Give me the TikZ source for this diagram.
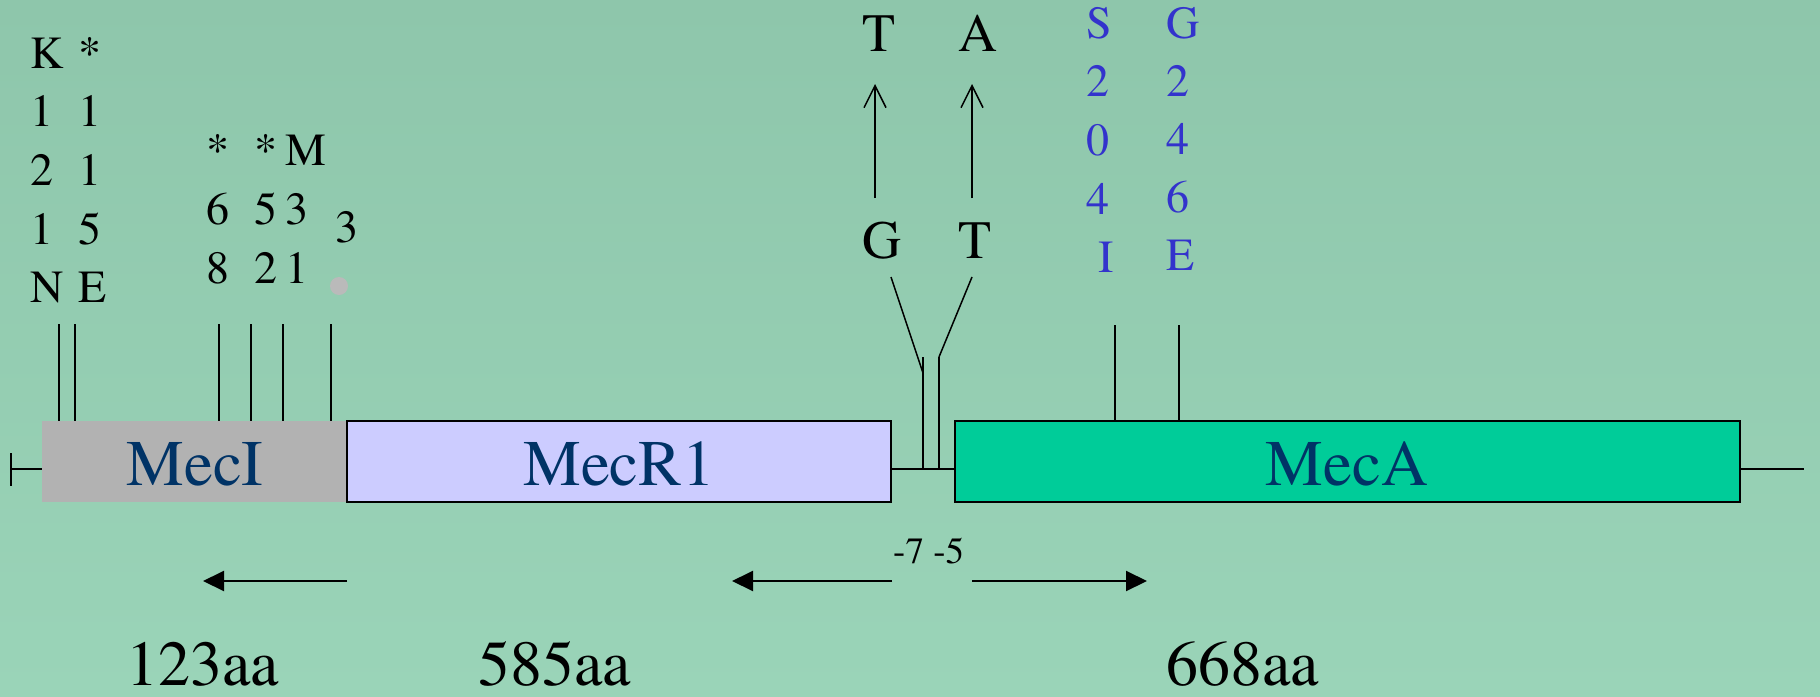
\documentclass[tikz,border=0pt]{standalone}
\usepackage[T1]{fontenc}
\renewcommand{\rmdefault}{ptm}
\usetikzlibrary{arrows.meta}
\definecolor{bgtop}{RGB}{142,198,171}
\definecolor{bgbot}{RGB}{154,212,184}
\definecolor{mecIgray}{RGB}{178,178,178}
\definecolor{mecRblue}{RGB}{204,204,255}
\definecolor{mecAgreen}{RGB}{0,204,153}
\definecolor{navy}{RGB}{0,51,102}
\definecolor{mutblue}{RGB}{51,51,204}
\definecolor{dotgray}{RGB}{186,186,186}
\begin{document}
\begin{tikzpicture}[x=1pt,y=-1pt,
  gene/.style={rectangle, inner sep=0pt, outer sep=0pt, anchor=north west, minimum height=81pt},
  genename/.style={font=\rmfamily\fontsize{65}{78}\selectfont, text=navy, anchor=base, inner sep=0pt},
  res/.style={font=\rmfamily\fontsize{46}{55}\selectfont, anchor=base west, inner sep=0pt},
  mut/.style={res, text=mutblue},
  nt/.style={font=\rmfamily\fontsize{54}{64}\selectfont, anchor=base, inner sep=0pt},
  len/.style={font=\rmfamily\fontsize{64}{76}\selectfont, anchor=base west, inner sep=0pt},
  tick/.style={line width=1.5pt},
  dir/.style={line width=2pt, -{Triangle[length=21pt,width=20pt]}},
  subst/.style={line width=1.5pt, -{Straight Barb[length=22pt,width=22pt,line width=1.5pt]}}
]
% page and background
\useasboundingbox (0,0) rectangle (1820,696);
\shade[top color=bgtop, bottom color=bgbot] (0,0) rectangle (1820,696);

% backbone of the operon
\draw[tick] (11,453) -- (11,486);
\draw[tick] (11,469) -- (42,469);
\draw[tick] (891,469) -- (955,469);
\draw[tick] (1740,469) -- (1804,469);

% genes
\node[gene, fill=mecIgray, minimum width=305pt] (mecI) at (42,421) {};
\node[gene, draw, line width=1.5pt, fill=mecRblue, minimum width=544pt] (mecR) at (347,421) {};
\node[gene, draw, line width=1.5pt, fill=mecAgreen, minimum width=785pt] (mecA) at (955,421) {};
\node[genename] (mecIname) at (195,485) {MecI};
\node[genename] (mecRname) at (619,485) {MecR1};
\node[genename] (mecAname) at (1347,485) {MecA};

% mutation sites in MecI
\foreach \x in {59,75,219,251,283,331} \draw[tick] (\x,324) -- (\x,421);
\foreach \c [count=\i from 0] in {K,1,2,1,N} \node[res] (ka\i) at (30,{68+58.7*\i}) {\c};
\foreach \c [count=\i from 0] in {*,1,1,5,E} \node[res] (kb\i) at (78,{68+58.7*\i}) {\c};
\foreach \c [count=\i from 0] in {*,6,8} \node[res] (ma\i) at (206,{165+59*\i}) {\c};
\foreach \c [count=\i from 0] in {*,5,2} \node[res] (mb\i) at (254,{165+59*\i}) {\c};
\foreach \c [count=\i from 0] in {M,3,1} \node[res] (mc\i) at (285,{165+59*\i}) {\c};
\node[res] (md0) at (335,242) {3};
\fill[dotgray] (339,286) circle[radius=9];

% promoter substitutions
\node[nt] (ntT1) at (879,51) {T};
\node[nt] (ntA) at (978,51) {A};
\node[nt] (ntG) at (882,258) {G};
\node[nt] (ntT2) at (975,258) {T};
\draw[subst] (875,198) -- (875,84);
\draw[subst] (972,198) -- (972,84);
\draw[tick] (891,277) -- (923,373);
\draw[tick] (972,277) -- (939,357);
\draw[tick] (923,357) -- (923,469);
\draw[tick] (939,357) -- (939,469);

% mutation sites in MecA
\draw[tick] (1115,325) -- (1115,421);
\draw[tick] (1179,325) -- (1179,421);
\foreach \c [count=\i from 0] in {S,2,0,4} \node[mut] (sa\i) at (1086,{38+58.7*\i}) {\c};
\node[mut] (sa4) at (1098,272) {I};
\foreach \c [count=\i from 0] in {G,2,4,6,E} \node[mut] (sb\i) at (1166,{38+58.2*\i}) {\c};

% transcription directions
\draw[dir] (347,581) -- (203,581);
\draw[dir] (892,581) -- (732,581);
\draw[dir] (972,581) -- (1147,581);
\node[font=\rmfamily\fontsize{37}{44}\selectfont, anchor=base west, inner sep=0pt] (start) at (893,563) {-7 -5};

% protein lengths
\node[len] (lenI) at (126,685) {123aa};
\node[len] (lenR) at (478,685) {585aa};
\node[len] (lenA) at (1166,685) {668aa};
\end{tikzpicture}
\end{document}
